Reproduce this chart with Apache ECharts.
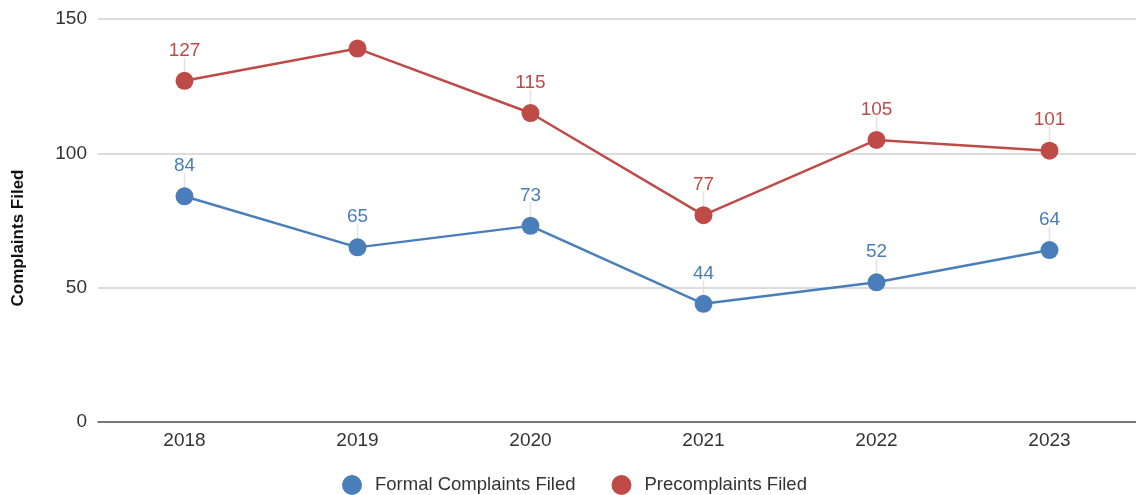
<!DOCTYPE html>
<html>
<head>
<meta charset="utf-8">
<script src="https://cdn.jsdelivr.net/npm/echarts@6/dist/echarts.min.js"></script>
<style>html,body{margin:0;padding:0;background:#fff}#c{width:1136px;height:495px}</style>
</head>
<body>
<div id="c"></div>
<script>
const categories = ['2018', '2019', '2020', '2021', '2022', '2023'];
const formal = [84, 65, 73, 44, 52, 64];
const precomplaints = [127, 139, 115, 77, 105, 101];
const yTicks = [0, 50, 100, 150];
const seriesNames = ['Formal Complaints Filed', 'Precomplaints Filed'];
const hiddenPreLabels = ['2019'];
const yTitle = 'Complaints Filed';

const BLUE = '#4a7ebb', RED = '#be4b48';
const FONT = 'Liberation Sans, Arial, sans-serif';

function withLabels(vals, hidden) {
  return vals.map((v, i) => hidden.includes(categories[i]) ? { value: v, label: { show: false } } : v);
}
function leaders(vals, hidden) {
  return vals.map((v, i) => hidden.includes(categories[i]) ? null : v);
}

const chart = echarts.init(document.getElementById('c'), null, { renderer: 'canvas' });
const labelCfg = (color) => ({ show: true, position: 'top', distance: 12, color: color, fontSize: 19, fontFamily: FONT });
const leaderSeries = (vals) => ({
  type: 'scatter', data: vals, symbol: 'rect', symbolSize: [1.5, 15], symbolOffset: [0, -16],
  itemStyle: { color: '#dcdcdc' }, silent: true, z: 1, tooltip: { show: false }
});

chart.setOption({
  animation: false,
  textStyle: { fontFamily: FONT },
  grid: { left: 98, top: 19, width: 1045, height: 403 },
  legend: {
    top: 470, left: 337, itemWidth: 20, itemHeight: 20, itemGap: 36,
    icon: 'circle', data: seriesNames,
    textStyle: { fontSize: 18.5, color: '#333', fontFamily: FONT, padding: [0, 0, 0, 8] }
  },
  graphic: [{
    type: 'text', rotation: Math.PI / 2, x: 18, y: 238,
    style: { text: yTitle, font: 'bold 17px ' + FONT, fill: '#111', textAlign: 'center', textVerticalAlign: 'middle' }
  }],
  xAxis: {
    type: 'category', data: categories, boundaryGap: true,
    axisLine: { lineStyle: { color: '#555', width: 1.5 } },
    axisTick: { show: false },
    axisLabel: { fontSize: 19, color: '#333', margin: 9, fontFamily: FONT }
  },
  yAxis: {
    type: 'value', min: yTicks[0], max: yTicks[yTicks.length - 1], interval: 50,
    axisLine: { show: false }, axisTick: { show: false },
    axisLabel: { fontSize: 19, color: '#333', margin: 11, fontFamily: FONT },
    splitLine: { lineStyle: { color: '#d0d0d0', width: 1.5 } }
  },
  series: [
    leaderSeries(leaders(formal, [])),
    leaderSeries(leaders(precomplaints, hiddenPreLabels)),
    {
      name: seriesNames[0], type: 'line', data: withLabels(formal, []), z: 3,
      symbol: 'circle', symbolSize: 18, lineStyle: { color: BLUE, width: 2.5 },
      itemStyle: { color: BLUE }, label: labelCfg(BLUE)
    },
    {
      name: seriesNames[1], type: 'line', data: withLabels(precomplaints, hiddenPreLabels), z: 3,
      symbol: 'circle', symbolSize: 18, lineStyle: { color: RED, width: 2.5 },
      itemStyle: { color: RED }, label: labelCfg(RED)
    }
  ]
});
</script>
</body>
</html>
